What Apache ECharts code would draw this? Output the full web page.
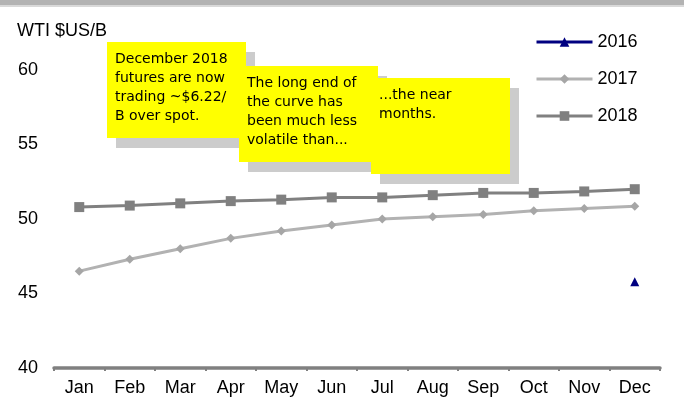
<!DOCTYPE html>
<html>
<head>
<meta charset="utf-8">
<script src="https://cdn.jsdelivr.net/npm/echarts@6/dist/echarts.min.js"></script>
<style>
  html, body { margin: 0; padding: 0; background: #fff; }
  #chart { width: 684px; height: 401px; }
</style>
</head>
<body>
<div id="chart"></div>
<script>
  // data
  var months = ['Jan', 'Feb', 'Mar', 'Apr', 'May', 'Jun', 'Jul', 'Aug', 'Sep', 'Oct', 'Nov', 'Dec']
  var wti2016 = [null, null, null, null, null, null, null, null, null, null, null, 45.79]
  var wti2017 = [46.5, 47.3, 48.0, 48.7, 49.2, 49.6, 50.0, 50.15, 50.3, 50.55, 50.7, 50.85]
  var wti2018 = [50.8, 50.9, 51.05, 51.2, 51.3, 51.45, 51.45, 51.6, 51.75, 51.75, 51.85, 52.0]
  var yTicks = { min: 40, max: 60, step: 5 }
  var notes = [
    'December 2018\nfutures are now\ntrading ~$6.22/\nB over spot.',
    'The long end of\nthe curve has\nbeen much less\nvolatile than...',
    '...the near\nmonths.'
  ]

  var font = 'Liberation Sans, Arial, sans-serif'
  var noteFont = '"Comic Sans MS", "DejaVu Sans", sans-serif'

  // sticky note boxes with drop shadow
  function note(x, y, text) {
    return [
      { type: 'rect', left: x + 9, top: y + 10, shape: { width: 139, height: 96 }, style: { fill: '#cccccc' }, z: 10 },
      { type: 'rect', left: x, top: y, shape: { width: 139, height: 96 }, style: { fill: '#ffff00' }, z: 11 },
      { type: 'text', left: x + 8, top: y + 8, z: 12,
        style: { text: text, font: '14px ' + noteFont, fill: '#000', lineHeight: 19 } }
    ]
  }

  var chart = echarts.init(document.getElementById('chart'))
  var option = {
    animation: false,
    backgroundColor: '#fff',
    graphic: [
      { type: 'rect', left: 0, top: 0, shape: { width: 684, height: 5 }, style: { fill: '#b3b3b3' } },
      { type: 'rect', left: 0, top: 5, shape: { width: 684, height: 2 }, style: { fill: '#d9d9d9' } },
      { type: 'text', left: 17, top: 22, style: { text: 'WTI $US/B', font: '18px ' + font, fill: '#000' } }
    ].concat(note(107, 42, notes[0]), note(239, 66, notes[1]), note(371, 78, notes[2])),
    legend: {
      orient: 'vertical',
      left: 530,
      top: 28,
      itemGap: 19,
      itemWidth: 56,
      itemHeight: 12,
      lineStyle: { width: 3 },
      textStyle: { fontFamily: font, fontSize: 18, color: '#000' },
      data: ['2016', '2017', '2018']
    },
    grid: { left: 54, right: 24, top: 70, bottom: 33 },
    xAxis: {
      type: 'category',
      data: months,
      boundaryGap: true,
      axisLine: { lineStyle: { color: '#808080', width: 3.5 } },
      axisTick: { show: true, length: 3, lineStyle: { color: '#808080', width: 2 } },
      axisLabel: { fontFamily: font, fontSize: 18, color: '#000', margin: 11 }
    },
    yAxis: {
      type: 'value',
      min: yTicks.min,
      max: yTicks.max,
      interval: yTicks.step,
      axisLine: { show: false },
      axisTick: { show: false },
      splitLine: { show: false },
      axisLabel: { fontFamily: font, fontSize: 18, color: '#000', margin: 16 }
    },
    series: [
      {
        name: '2016', type: 'line', data: wti2016,
        symbol: 'triangle', symbolSize: 9,
        itemStyle: { color: '#000080' },
        lineStyle: { color: '#000080', width: 3 }
      },
      {
        name: '2017', type: 'line', data: wti2017,
        symbol: 'diamond', symbolSize: 9,
        itemStyle: { color: '#a6a6a6' },
        lineStyle: { color: '#b2b2b2', width: 3 }
      },
      {
        name: '2018', type: 'line', data: wti2018,
        symbol: 'rect', symbolSize: 10,
        itemStyle: { color: '#808080' },
        lineStyle: { color: '#808080', width: 3 }
      }
    ]
  }
  chart.setOption(option)
</script>
</body>
</html>
